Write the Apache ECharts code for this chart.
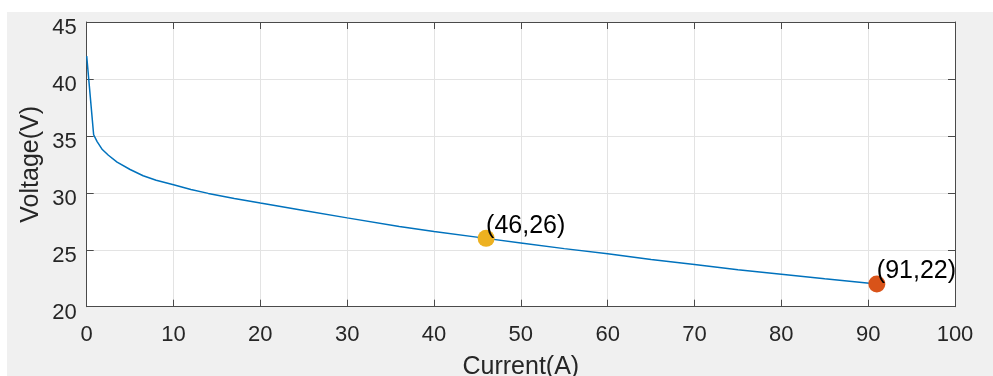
<!DOCTYPE html>
<html>
<head>
<meta charset="utf-8">
<script src="https://cdn.jsdelivr.net/npm/echarts@6/dist/echarts.min.js"></script>
<style>
html,body{margin:0;padding:0;background:#ffffff;}
#chart{width:993px;height:376px;}
</style>
</head>
<body>
<div id="chart"></div>
<script>
var current = [0, 0.8, 1.2, 1.8, 2.5, 3.5, 5, 6.5, 8, 10, 12, 14, 17, 20, 25, 30, 36, 40, 46, 50, 55, 60, 65, 70, 75, 80, 85, 91];
var voltage = [42.0, 35.1, 34.5, 33.8, 33.3, 32.7, 32.05, 31.5, 31.1, 30.7, 30.3, 29.95, 29.5, 29.1, 28.45, 27.8, 27.05, 26.6, 26.0, 25.6, 25.1, 24.65, 24.15, 23.7, 23.25, 22.85, 22.45, 22.0];
var markPts = [[46, 26], [91, 22]];
var markLabels = ['(46,26)', '(91,22)'];
var markColors = ['#EDB120', '#D95319'];
var xName = 'Current(A)';
var yName = 'Voltage(V)';

var chart = echarts.init(document.getElementById('chart'), null, {renderer: 'canvas'});
var font = 'Liberation Sans, Arial, Helvetica, sans-serif';
var axisCol = '#4a4a4a';
var txtCol = '#262626';
var gridCol = '#e3e3e3';

function baseAxis(extra) {
  return Object.assign({
    axisLine: {show: true, onZero: false, lineStyle: {color: axisCol, width: 1}},
    axisTick: {show: true, inside: true, length: 7, lineStyle: {color: axisCol, width: 1}},
    splitLine: {show: false},
    axisLabel: {show: false}
  }, extra);
}

var series = [{
  type: 'line',
  data: current.map(function (c, i) { return [c, voltage[i]]; }),
  showSymbol: false,
  symbol: 'none',
  lineStyle: {color: '#0072BD', width: 1.5},
  z: 3
}];
markPts.forEach(function (p, i) {
  series.push({
    type: 'scatter',
    data: [p],
    symbolSize: 17,
    itemStyle: {color: markColors[i], opacity: 1},
    label: {
      show: true,
      formatter: markLabels[i],
      position: [8.5, 8.5],
      align: 'left',
      verticalAlign: 'bottom',
      fontSize: 25,
      fontFamily: font,
      color: '#000000'
    },
    z: 4
  });
});

var option = {
  animation: false,
  backgroundColor: '#ffffff',
  graphic: [{
    type: 'rect',
    shape: {x: 7, y: 12, width: 986, height: 364},
    style: {fill: '#f0f0f0'},
    silent: true,
    z: -10
  }],
  grid: {
    left: 86.7, right: 38, top: 22, bottom: 69.3,
    show: true, backgroundColor: '#ffffff', borderWidth: 0,
    containLabel: false,
    outerBoundsMode: 'none'
  },
  xAxis: [
    {
      type: 'value', min: 0, max: 100, interval: 10, position: 'bottom',
      name: xName, nameLocation: 'middle', nameGap: 48, nameMoveOverlap: false,
      nameTextStyle: {fontSize: 25, fontFamily: font, color: txtCol},
      axisLine: {show: true, onZero: false, lineStyle: {color: axisCol, width: 1}},
      axisTick: {show: true, inside: true, length: 7, lineStyle: {color: axisCol, width: 1}},
      splitLine: {show: true, lineStyle: {color: gridCol, width: 1}},
      axisLabel: {show: true, fontSize: 22, fontFamily: font, color: txtCol, margin: 17}
    },
    baseAxis({type: 'value', min: 0, max: 100, interval: 10, position: 'top'})
  ],
  yAxis: [
    {
      type: 'value', min: 20, max: 45, interval: 5, position: 'left',
      name: yName, nameLocation: 'middle', nameGap: 43, nameMoveOverlap: false,
      nameTextStyle: {fontSize: 25, fontFamily: font, color: txtCol},
      axisLine: {show: true, onZero: false, lineStyle: {color: axisCol, width: 1}},
      axisTick: {show: true, inside: true, length: 7, lineStyle: {color: axisCol, width: 1}},
      splitLine: {show: true, lineStyle: {color: gridCol, width: 1}},
      axisLabel: {show: true, fontSize: 22, fontFamily: font, color: txtCol, margin: 10, verticalAlign: 'top', lineHeight: 12}
    },
    baseAxis({type: 'value', min: 20, max: 45, interval: 5, position: 'right'})
  ],
  series: series
};
chart.setOption(option);
</script>
</body>
</html>
